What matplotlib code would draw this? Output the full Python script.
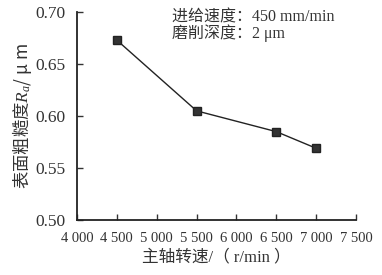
import matplotlib.pyplot as plt

speed = [4500, 5500, 6500, 7000]
roughness = [0.673, 0.605, 0.585, 0.569]
xticks = [4000, 4500, 5000, 5500, 6000, 6500, 7000, 7500]
xticklabels = ['4 000', '4 500', '5 000', '5 500', '6 000', '6 500', '7 000', '7 500']
yticks = [0.50, 0.55, 0.60, 0.65, 0.70]

plt.rcParams['font.family'] = ['Liberation Serif', 'Noto Sans CJK SC']
plt.rcParams['mathtext.fontset'] = 'custom'
plt.rcParams['mathtext.rm'] = 'Noto Sans CJK SC'
plt.rcParams['mathtext.it'] = 'Liberation Serif:italic'

fig = plt.figure(figsize=(3.82, 2.75), dpi=100)
ax = fig.add_axes([0.2016, 0.2, 0.7304, 0.756])
ax.plot(speed, roughness, color='#222222', lw=1.0, marker='s', ms=5.5,
        mfc='#333333', mec='#222222')
ax.set_xlim(4000, 7500)
ax.set_ylim(0.50, 0.70)
ax.set_xticks(xticks)
ax.set_xticklabels(xticklabels)
ax.set_yticks(yticks)
ax.set_yticklabels(['%.2f' % v for v in yticks])
ax.spines['top'].set_visible(False)
ax.spines['right'].set_visible(False)
for s in ['left', 'bottom']:
    ax.spines[s].set_linewidth(1.3)
    ax.spines[s].set_color('#222222')
ax.tick_params(direction='in', length=4, width=1, colors='#333333')
ax.tick_params(axis='y', labelsize=12.5, pad=8)
ax.tick_params(axis='x', labelsize=10.5, pad=9)

ax.set_xlabel('主轴转速/（ r/min ）', fontsize=12, color='#333333', labelpad=3)
ax.set_ylabel(r'$\mathrm{表面粗糙度}\mathit{R}_\mathit{a}\mathrm{/\ μ\ m}$',
              fontsize=12.5, color='#333333', labelpad=1)

ax.text(0.34, 0.976, '进给速度：450 mm/min', transform=ax.transAxes,
        fontsize=11.5, color='#333333', va='center')
ax.text(0.34, 0.899, '磨削深度：2 μm', transform=ax.transAxes,
        fontsize=11.5, color='#333333', va='center')

fig.savefig('out.png', dpi=100)
